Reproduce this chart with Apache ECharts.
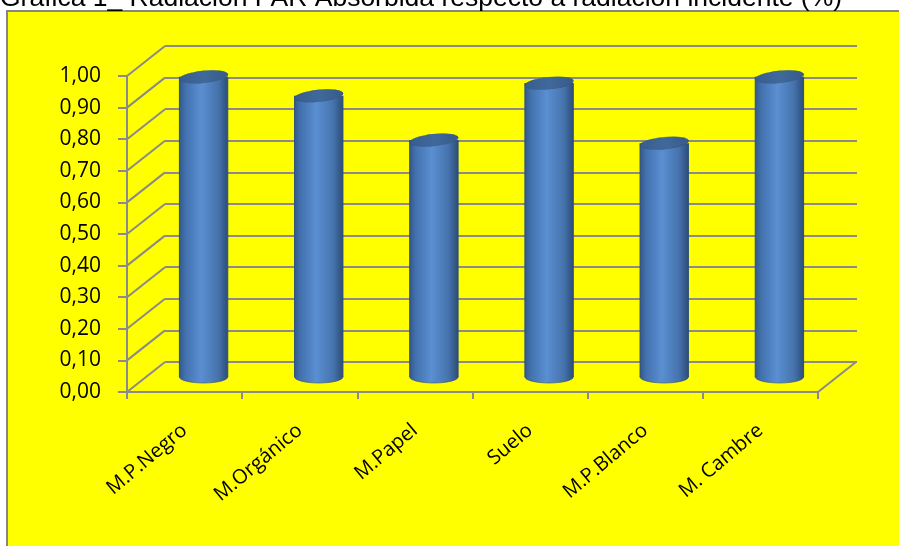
<!DOCTYPE html>
<html>
<head>
<meta charset="utf-8">
<script src="https://cdn.jsdelivr.net/npm/echarts@6/dist/echarts.min.js"></script>
<style>
html,body{margin:0;padding:0;background:#fff;}
#chart{width:899px;height:546px;}
</style>
</head>
<body>
<div id="chart"></div>
<script>
const titleText = 'Gráfica 1_ Radiación PAR Absorbida respecto a radiación incidente (%)';
const categories = ['M.P.Negro', 'M.Orgánico', 'M.Papel', 'Suelo', 'M.P.Blanco', 'M. Cambre'];
const values = [0.95, 0.89, 0.75, 0.93, 0.74, 0.95];
const yMin = 0, yMax = 1, yStep = 0.1;

// 3D depth offset of the back wall (pixels)
const DX = 38, DY = 30;
const GRID_COLOR = '#8a8a8a';

const tickVals = [];
for (let k = 0; k <= Math.round((yMax - yMin) / yStep); k++) tickVals.push(+(yMin + k * yStep).toFixed(2));

const fmt = v => v.toFixed(2).replace('.', ',');

const chart = echarts.init(document.getElementById('chart'), null, {renderer: 'canvas'});

const bodyGrad = new echarts.graphic.LinearGradient(0, 0, 1, 0, [
  {offset: 0, color: '#33598a'},
  {offset: 0.12, color: '#4271ad'},
  {offset: 0.45, color: '#5a8fd2'},
  {offset: 0.8, color: '#4673ad'},
  {offset: 1, color: '#2d4d78'}
]);
const topGrad = new echarts.graphic.LinearGradient(0, 0, 1, 0, [
  {offset: 0, color: '#375d8c'},
  {offset: 0.5, color: '#40699b'},
  {offset: 1, color: '#375b88'}
]);

function cylinder(params, api) {
  const idx = api.value(0);
  const v = api.value(1);
  const pTop = api.coord([idx, v]);
  const pBot = api.coord([idx, yMin]);
  const bw = api.size([1, 0])[0];
  const w = bw * 0.42;
  const rx = w / 2, ry = 6;
  const cx = pTop[0] + DX / 2;
  const yt = pTop[1] - DY / 2;
  const yb = pBot[1] - DY / 2;
  return {
    type: 'group',
    children: [
      {type: 'circle', x: cx, y: yb, scaleY: ry / rx, shape: {cx: 0, cy: 0, r: rx},
        style: {fill: bodyGrad, stroke: '#2f4f7a', lineWidth: 1}},
      {type: 'rect', shape: {x: cx - rx, y: yt, width: w, height: yb - yt},
        style: {fill: bodyGrad}},
      {type: 'line', shape: {x1: cx - rx, y1: yt, x2: cx - rx, y2: yb}, style: {stroke: '#2f4f7a', lineWidth: 1}},
      {type: 'line', shape: {x1: cx + rx, y1: yt, x2: cx + rx, y2: yb}, style: {stroke: '#2f4f7a', lineWidth: 1}},
      {type: 'circle', x: cx, y: yt, scaleY: ry / rx, rotation: 0.1, shape: {cx: 0, cy: 0, r: rx},
        style: {fill: topGrad, stroke: '#34547f', lineWidth: 1}}
    ]
  };
}

function diagonals(params, api) {
  const v = api.value(1);
  const p = api.coord([0, v]);
  const bw = api.size([1, 0])[0];
  const xl = p[0] - bw / 2;
  const children = [
    {type: 'line', shape: {x1: xl, y1: p[1], x2: xl + DX, y2: p[1] - DY},
      style: {stroke: GRID_COLOR, lineWidth: 2}}
  ];
  if (v === yMin) {
    const pr = api.coord([categories.length - 1, v]);
    const xr = pr[0] + bw / 2;
    children.push({type: 'line', shape: {x1: xr, y1: p[1], x2: xr + DX, y2: p[1] - DY},
      style: {stroke: GRID_COLOR, lineWidth: 2}});
  }
  return {type: 'group', children};
}

const option = {
  backgroundColor: '#ffffff',
  animation: false,
  graphic: [
    {type: 'rect', z: -100, shape: {x: 7, y: 11, width: 1000, height: 600},
      style: {fill: '#ffff00', stroke: '#868686', lineWidth: 2}},
    {type: 'text', z: 10, x: 0, y: -1,
      style: {text: titleText, font: '26.5px "Liberation Sans", Arial, sans-serif', fill: '#000',
        verticalAlign: 'middle', align: 'left'}}
  ],
  grid: [
    {left: 127, right: 81, top: 76, bottom: 154, containLabel: false},
    {left: 165, right: 42, top: 46, bottom: 184, containLabel: false}
  ],
  xAxis: [
    {type: 'category', gridIndex: 0, data: categories,
      axisLine: {show: true, lineStyle: {color: GRID_COLOR, width: 2}},
      axisTick: {show: true, length: 7, lineStyle: {color: GRID_COLOR, width: 2}},
      axisLabel: {rotate: 40, margin: 36, color: '#000', fontSize: 20,
        fontFamily: '"Open Sans", sans-serif'},
      splitLine: {show: false}},
    {type: 'category', gridIndex: 1, data: categories, show: false}
  ],
  yAxis: [
    {type: 'value', gridIndex: 0, min: yMin, max: yMax, interval: yStep,
      axisLine: {show: true, lineStyle: {color: GRID_COLOR, width: 2}},
      axisTick: {show: true, length: 9, lineStyle: {color: GRID_COLOR, width: 2}},
      axisLabel: {margin: 26, color: '#000', fontSize: 21, fontFamily: '"Open Sans", sans-serif',
        formatter: v => fmt(v)},
      splitLine: {show: false}},
    {type: 'value', gridIndex: 1, min: yMin, max: yMax, interval: yStep,
      axisLine: {show: false}, axisTick: {show: false}, axisLabel: {show: false},
      splitLine: {show: true, lineStyle: {color: GRID_COLOR, width: 2}}}
  ],
  series: [
    {type: 'custom', xAxisIndex: 0, yAxisIndex: 0, z: 1, silent: true,
      encode: {x: 0, y: 1},
      data: tickVals.map(v => [0, v]),
      renderItem: diagonals},
    {type: 'custom', xAxisIndex: 0, yAxisIndex: 0, z: 5,
      encode: {x: 0, y: 1},
      data: values.map((v, i) => [i, v]),
      renderItem: cylinder}
  ]
};
chart.setOption(option);
</script>
</body>
</html>
